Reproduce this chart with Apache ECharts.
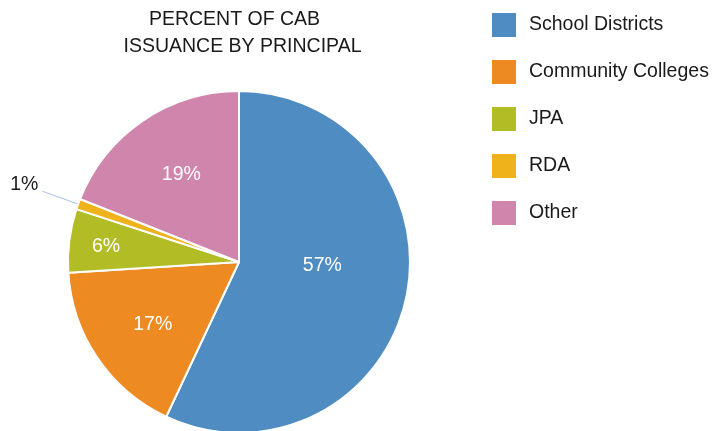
<!DOCTYPE html>
<html>
<head>
<meta charset="utf-8">
<script src="https://cdn.jsdelivr.net/npm/echarts@6/dist/echarts.min.js"></script>
<style>
  html, body { margin: 0; padding: 0; background: #fff; }
  #chart { width: 713px; height: 431px; }
</style>
</head>
<body>
<div id="chart"></div>
<script>
// data
const categories = ['School Districts', 'Community Colleges', 'JPA', 'RDA', 'Other']
const shares = [57, 17, 6, 1, 19]
const colors = ['#4f8cc1', '#ee8a22', '#b2bc25', '#f0b21b', '#d085ad']
const titleLines = ['PERCENT OF CAB', 'ISSUANCE BY PRINCIPAL']

// label distance from center (share of radius) and small nudges, per slice
const labelRatio = [0.5, 0.63, 0.78, null, 0.63]
const labelNudge = [[-3, -16], [6, 0], [4, 2], [1, -7], [5, 5]]
const center = [239, 262]
const radius = 171
const font = 'Liberation Sans, Arial, sans-serif'

const chart = echarts.init(document.getElementById('chart'))

const pieData = categories.map((name, i) => {
  const item = { name: name, value: shares[i], itemStyle: { color: colors[i] } }
  if (i === 3) {
    // small slice gets an outside label with a leader line
    item.label = {
      position: 'outside',
      color: '#1a1a1a',
      fontSize: 19.5,
      alignTo: 'none'
    }
    item.labelLine = {
      show: true,
      length: 38,
      length2: 0,
      smooth: false,
      lineStyle: { color: '#a6c2e6', width: 1 }
    }
  }
  return item
})

const titleStyle = {
  fontFamily: font,
  fontSize: 19.5,
  fontWeight: 'normal',
  color: '#1a1a1a'
}

const option = {
  backgroundColor: '#fff',
  animation: false,
  title: [
    { text: titleLines[0], left: 229.5, top: 5, textAlign: 'center', textStyle: titleStyle },
    { text: titleLines[1], left: 237.5, top: 32, textAlign: 'center', textStyle: titleStyle }
  ],
  legend: {
    orient: 'vertical',
    left: 487,
    top: 8,
    itemWidth: 24,
    itemHeight: 24,
    itemGap: 23,
    icon: 'rect',
    itemStyle: { borderWidth: 0 },
    data: categories,
    textStyle: {
      fontFamily: font,
      fontSize: 19.5,
      color: '#1a1a1a',
      padding: [0, 0, 0, 8]
    }
  },
  series: [
    {
      type: 'pie',
      center: center,
      radius: radius,
      startAngle: 90,
      clockwise: true,
      avoidLabelOverlap: false,
      itemStyle: { borderColor: '#fff', borderWidth: 2 },
      label: {
        show: true,
        position: 'inside',
        formatter: '{c}%',
        color: '#fff',
        fontSize: 19.5,
        fontFamily: font
      },
      labelLine: { show: false },
      labelLayout: function (params) {
        const i = params.dataIndex
        const k = labelRatio[i]
        const nudge = labelNudge[i]
        if (k == null) return { dx: nudge[0], dy: nudge[1] }
        const r = params.labelRect
        const lx = r.x + r.width / 2 - center[0]
        const ly = r.y + r.height / 2 - center[1]
        const s = k / 0.5
        return {
          x: center[0] + lx * s + nudge[0],
          y: center[1] + ly * s + nudge[1],
          align: 'center',
          verticalAlign: 'middle'
        }
      },
      data: pieData
    }
  ]
}

chart.setOption(option)
</script>
</body>
</html>
